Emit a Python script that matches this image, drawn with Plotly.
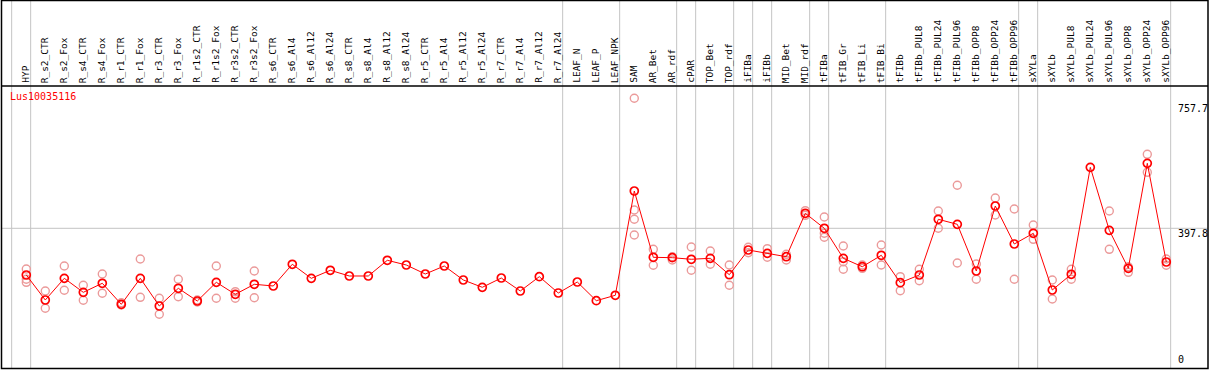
import plotly.graph_objects as go

W, H = 1209, 370

categories = ["HYP", "R_s2_CTR", "R_s2_Fox", "R_s4_CTR", "R_s4_Fox", "R_r1_CTR", "R_r1_Fox",
              "R_r3_CTR", "R_r3_Fox", "R_r1s2_CTR", "R_r1s2_Fox", "R_r3s2_CTR", "R_r3s2_Fox",
              "R_s6_CTR", "R_s6_Al4", "R_s6_Al12", "R_s6_Al24", "R_s8_CTR", "R_s8_Al4", "R_s8_Al12",
              "R_s8_Al24", "R_r5_CTR", "R_r5_Al4", "R_r5_Al12", "R_r5_Al24", "R_r7_CTR", "R_r7_Al4",
              "R_r7_Al12", "R_r7_Al24", "LEAF_N", "LEAF_P", "LEAF_NPK", "SAM", "AR_Bet", "AR_rdf",
              "cPAR", "TOP_Bet", "TOP_rdf", "iFIBa", "iFIBb", "MID_Bet", "MID_rdf", "tFIBa",
              "tFIB_Gr", "tFIB_Li", "tFIB_Bi", "tFIBb", "tFIBb_PUL8", "tFIBb_PUL24", "tFIBb_PUL96",
              "tFIBb_OPP8", "tFIBb_OPP24", "tFIBb_OPP96", "sXYLa", "sXYLb", "sXYLb_PUL8",
              "sXYLb_PUL24", "sXYLb_PUL96", "sXYLb_OPP8", "sXYLb_OPP24", "sXYLb_OPP96"]

mean_values = [263.3, 191.4, 253.8, 213.5, 239.5, 179.0, 253.8, 174.1, 225.1, 188.5, 242.3,
               207.8, 236.6, 231.7, 294.2, 253.8, 276.9, 260.5, 260.5, 305.7, 292.1, 266.2,
               289.3, 249.0, 227.9, 254.7, 217.3, 258.5, 211.5, 243.2, 189.4, 204.9, 505.2,
               314.3, 313.2, 308.6, 311.4, 264.2, 335.3, 325.8, 316.0, 441.0, 397.8, 311.4,
               287.2, 320.1, 241.2, 263.3, 423.7, 409.3, 274.9, 462.0, 352.6, 383.4, 220.2,
               265.4, 573.4, 392.0, 282.6, 584.9, 300.8]

replicate_values = [
    [280.6, 251.0, 242.3], [217.3, 167.5], [289.3, 219.3], [233.7, 190.5], [266.2, 210.7],
    [183.6, 177.0], [309.4, 199.1], [196.3, 150.2], [251.0, 200.9], [191.4, 185.6],
    [289.3, 196.3], [215.3, 196.3], [274.9, 198.0], [], [], [], [], [], [], [], [], [], [],
    [], [], [], [], [], [], [], [], [],
    [772.1, 450.5, 423.7, 378.5], [337.3, 291.3], [316.0, 306.5], [344.0, 276.9],
    [332.4, 294.2], [292.1, 233.7], [343.1, 327.6], [339.1, 314.3], [322.9, 306.5],
    [448.5, 435.2], [430.3, 383.4, 371.9], [346.8, 301.6, 279.8], [292.1, 282.6],
    [349.7, 292.1], [258.5, 218.2], [279.8, 246.9], [447.6, 397.8], [521.6, 297.9],
    [295.0, 251.0], [485.0, 436.1], [453.4, 251.0], [407.3, 366.1], [249.0, 194.3],
    [279.8, 251.0], [], [447.6, 337.3], [287.2, 271.1], [610.8, 559.0], [309.4, 291.3],
]

gene_name = "Lus10035116"
axis_labels = ["757.7", "397.8", "0"]
axis_label_values = [757.7, 397.8, 0]
mid_line_value = 397.8
group_ends = [-1, 0, 28, 31, 34, 35, 37, 38, 39, 41, 42, 45, 52, 53, 60]

# pixel helpers
def px_x(p):
    return p / W

def px_y(p):
    return (H - p) / H

X0 = 26.3
STEP = 19.0
y_top_px, y_bot_px = 86, 368
xr = [(0 - X0) / STEP, (W - X0) / STEP]
val_per_px = 2.879
yr = [397.8 - (y_bot_px - 228.3) * val_per_px, 397.8 + (228.3 - y_top_px) * val_per_px]

idx = list(range(len(categories)))
rx, ry = [], []
for i, reps in enumerate(replicate_values):
    for v in reps:
        rx.append(i)
        ry.append(v)

fig = go.Figure()
fig.add_trace(go.Scatter(x=rx, y=ry, mode="markers",
                         marker=dict(symbol="circle-open", size=8, color="#eb9a9a",
                                     line=dict(width=1.4, color="#eb9a9a")),
                         hoverinfo="skip", showlegend=False))
fig.add_trace(go.Scatter(x=idx, y=mean_values, mode="lines+markers",
                         line=dict(color="#ff0000", width=1),
                         marker=dict(symbol="circle-open", size=8, color="#ff0000",
                                     line=dict(width=1.7, color="#ff0000")),
                         text=categories, showlegend=False))

shapes = []
# vertical group separators
for g in group_ends:
    shapes.append(dict(type="line", xref="x", yref="paper", x0=g + 0.23, x1=g + 0.23,
                       y0=px_y(y_bot_px), y1=1, line=dict(color="#c4c4c4", width=1), layer="below"))
# horizontal mid line
shapes.append(dict(type="line", xref="paper", yref="y", x0=px_x(1), x1=px_x(1208),
                   y0=mid_line_value, y1=mid_line_value, line=dict(color="#c4c4c4", width=1), layer="below"))
# frame
shapes.append(dict(type="rect", xref="paper", yref="paper", x0=px_x(1.5), x1=px_x(1208),
                   y0=px_y(368.5), y1=px_y(0.5), line=dict(color="black", width=1.5)))
shapes.append(dict(type="line", xref="paper", yref="paper", x0=px_x(1.5), x1=px_x(1208),
                   y0=px_y(86), y1=px_y(86), line=dict(color="black", width=1.5)))

font = "DejaVu Sans Mono"
annotations = []
for i, c in enumerate(categories):
    annotations.append(dict(x=i, xref="x", y=px_y(85), yref="paper", text=c, showarrow=False,
                            textangle=-90, xanchor="center", yanchor="bottom", xshift=-1,
                            font=dict(family=font, size=9.5, color="black")))
annotations.append(dict(x=px_x(8), xref="paper", y=px_y(89), yref="paper", text=gene_name,
                        showarrow=False, xanchor="left", yanchor="top",
                        font=dict(family=font, size=10, color="#ff0000")))
for lab, v in zip(axis_labels, axis_label_values):
    if v == 0:
        annotations.append(dict(x=px_x(1176), xref="paper", y=0, yref="y", text=lab, showarrow=False,
                                xanchor="left", yanchor="bottom", yshift=-1,
                                font=dict(family=font, size=10, color="black")))
    else:
        annotations.append(dict(x=px_x(1176), xref="paper", y=v, yref="y", text=lab, showarrow=False,
                                xanchor="left", yanchor="top", yshift=2,
                                font=dict(family=font, size=10, color="black")))

fig.update_layout(
    width=W, height=H,
    margin=dict(l=0, r=0, t=0, b=0),
    paper_bgcolor="white", plot_bgcolor="white",
    xaxis=dict(range=xr, domain=[0, 1], showgrid=False, zeroline=False, showticklabels=False,
               ticks="", showline=False, fixedrange=True),
    yaxis=dict(range=yr, domain=[px_y(y_bot_px), px_y(y_top_px)], showgrid=False, zeroline=False,
               showticklabels=False, ticks="", showline=False, fixedrange=True),
    shapes=shapes, annotations=annotations, showlegend=False,
)

fig.write_html("out.html", config={"displayModeBar": False},
               post_script="document.body.style.margin='0';document.body.style.overflow='hidden';")
